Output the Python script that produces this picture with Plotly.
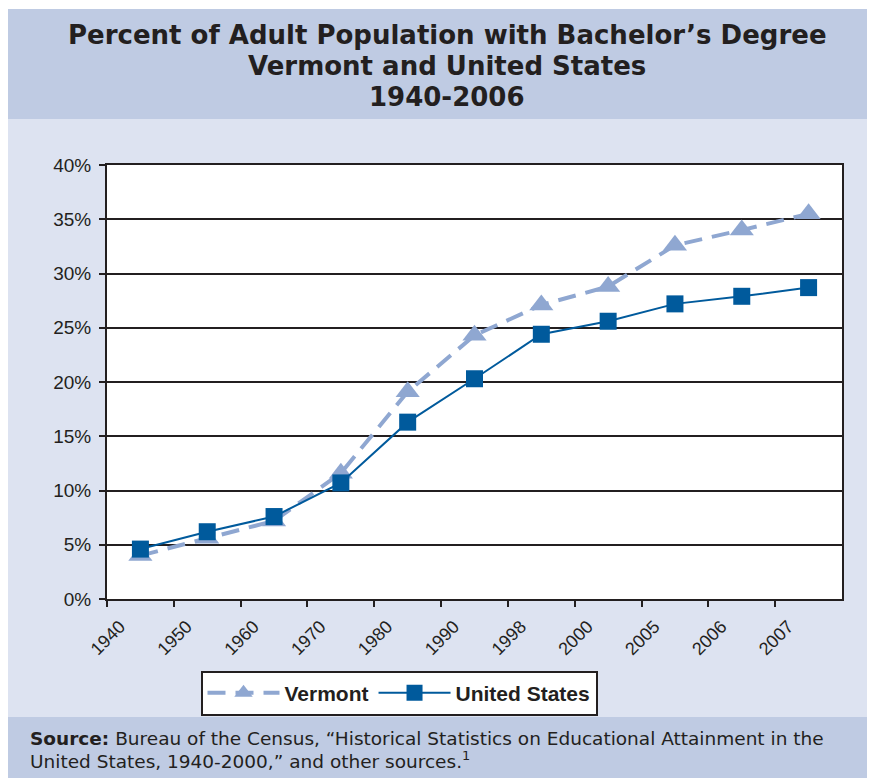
import plotly.graph_objects as go

years = ["1940", "1950", "1960", "1970", "1980", "1990", "1998", "2000", "2005", "2006", "2007"]
vermont = [4.0, 5.6, 7.2, 11.6, 19.1, 24.3, 27.1, 28.8, 32.6, 34.0, 35.5]
united_states = [4.6, 6.2, 7.6, 10.7, 16.3, 20.3, 24.4, 25.6, 27.2, 27.9, 28.7]
y_ticks = [0, 5, 10, 15, 20, 25, 30, 35, 40]
y_tick_labels = [f"{v}%" for v in y_ticks]

OFF = 8  # page body margin
W, H = 875 - OFF, 778 - OFF
# plot area in page pixels
L, R, T, B = 107, 842, 165, 599
pw, ph = R - L, B - T

def px_x(x):
    return (x - L) / pw

def px_y(y):
    return (B - y) / ph

pos = list(range(len(years)))
mid = [p + 0.5 for p in pos]

fig = go.Figure()
fig.add_trace(go.Scatter(
    x=mid, y=vermont, name="Vermont", mode="lines+markers",
    line=dict(color="#8FA7D1", width=4, dash="18px,10px"),
    marker=dict(symbol="triangle-up", size=21, color="#8FA7D1"),
))
fig.add_trace(go.Scatter(
    x=mid, y=united_states, name="United States", mode="lines+markers",
    line=dict(color="#005A9C", width=2),
    marker=dict(symbol="square", size=17, color="#005A9C"),
))

shapes = [
    dict(type="rect", xref="paper", yref="paper", x0=px_x(7), x1=px_x(880),
         y0=px_y(119), y1=px_y(9), fillcolor="#BFCBE3", line=dict(width=0), layer="below"),
    dict(type="rect", xref="paper", yref="paper", x0=px_x(7), x1=px_x(880),
         y0=px_y(717), y1=px_y(119), fillcolor="#DDE3F1", line=dict(width=0), layer="below"),
    dict(type="rect", xref="paper", yref="paper", x0=px_x(7), x1=px_x(880),
         y0=px_y(790), y1=px_y(717), fillcolor="#BFCBE3", line=dict(width=0), layer="below"),
    dict(type="rect", xref="paper", yref="paper", x0=0, x1=1, y0=0, y1=1,
         fillcolor="white", line=dict(width=0), layer="below"),
]

title_lines = ["Percent of Adult Population with Bachelor’s Degree",
               "Vermont and United States",
               "1940-2006"]
title_y = [35, 66, 97]
annotations = []
for txt, yy in zip(title_lines, title_y):
    annotations.append(dict(
        xref="paper", yref="paper", x=px_x(447), y=px_y(yy), xanchor="center", yanchor="middle",
        showarrow=False, text=f"<b>{txt}</b>",
        font=dict(family="DejaVu Sans", size=26, color="#231F20")))

source_lines = ["<b>Source:</b> Bureau of the Census, “Historical Statistics on Educational Attainment in the",
                "United States, 1940-2000,” and other sources.<sup>1</sup>"]
source_y = [738, 760]
for txt, yy in zip(source_lines, source_y):
    annotations.append(dict(
        xref="paper", yref="paper", x=px_x(28), y=px_y(yy), xanchor="left", yanchor="middle",
        showarrow=False, align="left", text=txt,
        font=dict(family="DejaVu Sans", size=18.5, color="#231F20")))

fig.update_layout(
    width=W, height=H,
    margin=dict(l=L - OFF, r=W - (R - OFF), t=T - OFF, b=H - (B - OFF), pad=0),
    paper_bgcolor="white", plot_bgcolor="white",
    shapes=shapes, annotations=annotations,
    showlegend=True,
    legend=dict(orientation="h", x=px_x(399), y=px_y(693), xanchor="center", yanchor="middle",
                bgcolor="white", bordercolor="#231F20", borderwidth=2,
                font=dict(family="Liberation Sans", size=21, color="#231F20", weight="bold"),
                itemwidth=72, tracegroupgap=0),
    xaxis=dict(range=[0, 11], tickmode="array", tickvals=pos, ticktext=years,
               tickangle=-45, ticks="outside", ticklen=6, tickwidth=2, tickcolor="#231F20",
               showline=True, linecolor="#231F20", linewidth=2, mirror=True,
               showgrid=False, zeroline=False, ticklabelshift=13, ticklabelstandoff=2,
               tickfont=dict(family="Liberation Sans", size=18, color="#231F20")),
    yaxis=dict(range=[0, 40], tickmode="array", tickvals=y_ticks, ticktext=y_tick_labels,
               ticks="outside", ticklen=6, tickwidth=2, tickcolor="#231F20",
               showline=True, linecolor="#231F20", linewidth=2, mirror=True,
               showgrid=True, gridcolor="#231F20", gridwidth=2, zeroline=False,
               ticklabelstandoff=4,
               tickfont=dict(family="Liberation Sans", size=19, color="#231F20")),
)

fig.write_html("out.html")
